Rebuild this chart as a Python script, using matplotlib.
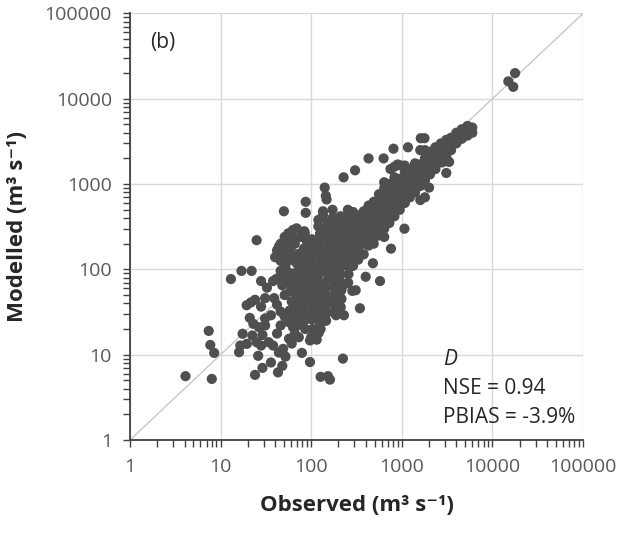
import matplotlib.pyplot as plt

plt.rcParams['font.family'] = ['Open Sans', 'DejaVu Sans']

# Observed / modelled discharge pairs (m3 s-1)
outliers_x = [4.1, 7.4, 7.7, 8.5, 8, 13, 17, 22, 25, 50, 87, 87]
outliers_y = [5.6, 19, 13, 10.5, 5.2, 77, 96, 96, 220, 480, 620, 460]

low_x = [16, 16.5, 17.5, 19.5, 19.4, 21.6, 24, 22.4, 26.5, 29, 31, 28, 31, 32.5, 28, 38, 41, 46,
         51, 39, 42, 46, 51, 57, 63, 46, 42, 34, 38, 49, 57, 66, 73, 80, 69, 59, 61, 51, 31, 36,
         25, 28, 24, 29, 26, 36, 43, 48, 79, 97, 97, 115, 127, 127, 127, 153, 161, 224,
         21, 23, 44, 52, 61, 73]
low_y = [10.7, 12.8, 17.6, 13.4, 38, 41, 44, 16.8, 21, 17, 26.6, 36.6, 46, 61, 73, 73, 77, 96,
         80, 46, 38.5, 32, 28, 24, 21, 22, 17.7, 14, 12.8, 11.7, 15.4, 17.7, 26.6, 35, 46, 55, 42, 50, 22, 29,
         14, 12.8, 5.8, 7, 9.7, 8.1, 6.2, 7.4, 10.5, 8.2, 14.7, 15, 20, 24, 5.5, 5.6, 5.1, 9,
         27, 23, 10.6, 9.5, 13.5, 16]

mid_x = [42, 46, 51, 56, 63, 69, 54, 66, 77, 85, 40, 46, 56, 73, 81, 85, 73, 44, 60, 90, 92, 65,
         44, 48, 55, 60, 66, 70, 76, 62, 58, 66, 72, 78, 85, 88, 64, 75,
         50, 58, 48, 62, 52]
mid_y = [167, 200, 240, 265, 290, 303, 159, 200, 240, 265, 139, 126, 126, 152, 139, 116, 116, 185, 180, 210, 175, 230,
         80, 65, 70, 90, 62, 80, 95, 75, 33, 38, 52, 44, 30, 40, 28, 24,
         185, 215, 145, 140, 105]

core_x = [70, 72, 69, 73, 71, 70, 73, 71, 69, 72,
          86, 84, 87, 83, 86, 85, 88, 84, 86, 85, 83, 86, 84,
          100, 104, 101, 103, 99, 104, 102, 100, 103, 101, 104, 99, 102,
          121, 125, 122, 124, 120, 125, 123, 121, 126, 122, 124, 121, 125, 120,
          146, 150, 147, 149, 145, 151, 148, 146, 150, 147, 149, 146, 152,
          176, 180, 177, 179, 175, 181, 178, 176, 180, 177, 179, 174,
          212, 216, 213, 215, 211, 217, 214, 212, 216, 213, 215, 211,
          256, 258, 254, 260, 257, 255, 259, 256, 258, 254,
          127, 155, 172, 120, 135, 201, 216, 233, 285, 188, 230,
          78, 93, 112, 135, 162, 195, 78, 93, 112, 135, 162, 195,
          78, 93, 112, 135, 162, 195, 93, 112, 135, 162]
core_y = [22, 27, 33, 40, 50, 62, 76, 95, 118, 145,
          20, 25, 31, 38, 47, 58, 72, 90, 112, 140, 175, 230, 280,
          16, 20, 26, 32, 40, 50, 62, 78, 96, 120, 150, 185, 225,
          18, 23, 29, 36, 45, 56, 70, 87, 108, 135, 168, 210, 260, 320,
          25, 31, 39, 48, 60, 75, 93, 115, 145, 180, 225, 290, 350,
          32, 40, 50, 62, 78, 97, 120, 150, 190, 240, 300, 380,
          36, 45, 56, 70, 88, 110, 140, 175, 220, 270, 340, 420,
          70, 88, 110, 135, 170, 210, 260, 330, 410, 500,
          265, 350, 400, 380, 430, 51, 58, 67, 56, 29, 29,
          35, 43, 52, 66, 82, 100, 66, 80, 100, 125, 155, 190,
          125, 55, 36, 44, 110, 68, 160, 195, 240, 260]

band_x = [250] * 6 + [290] * 7 + [330] * 6 + [380] * 6 + [430] * 6 + [490] * 6 + [560] * 6 \
    + [640] * 7 + [730] * 6 + [830] * 7 + [950] * 5 + [1080] * 6 + [1230] * 5 + [1400] * 5 \
    + [1600] * 6 + [1800] * 6 + [2050] * 4 + [2350] * 4 + [2700] * 4 + [3100] * 4 + [3500] * 3 \
    + [4000] * 3 + [4600] * 3 + [5300] * 3 + [6000] * 2
band_y = [130, 170, 210, 260, 320, 400,
          110, 150, 190, 240, 300, 380, 470,
          130, 170, 220, 280, 350, 430,
          150, 200, 250, 310, 390, 480,
          190, 240, 300, 370, 460, 560,
          200, 260, 330, 410, 500, 620,
          250, 320, 400, 500, 620, 760,
          300, 380, 480, 600, 740, 900, 1050,
          350, 440, 560, 700, 860, 1000,
          420, 520, 650, 800, 980, 1200, 1600,
          500, 620, 780, 950, 1150,
          600, 740, 900, 1100, 1350, 1650,
          700, 860, 1050, 1250, 1500,
          800, 1000, 1200, 1450, 1750,
          650, 950, 1150, 1400, 1700, 2500,
          700, 1100, 1350, 1650, 2000, 2500,
          1300, 1600, 2000, 2400,
          1500, 1900, 2300, 2700,
          1800, 2200, 2600, 3000,
          2100, 2500, 2900, 3300,
          2500, 3000, 3500,
          3000, 3500, 4000,
          3400, 3900, 4400,
          3700, 4200, 4800,
          4000, 4600]

extra_x = [141, 145, 148, 135, 172, 228, 305, 430, 630, 810, 1170, 1620, 1780,
           1070, 2000, 3330, 3100, 2800, 575, 400, 480, 345, 310, 760, 640, 500,
           750, 900, 980, 15000, 17000, 17800]
extra_y = [910, 730, 660, 480, 500, 1200, 1450, 2000, 2000, 2600, 2700, 3450, 3450,
           300, 910, 1820, 1350, 1800, 73, 82, 118, 35, 57, 175, 240, 240,
           1500, 1700, 1650, 16000, 13800, 20000]

observed = outliers_x + low_x + mid_x + core_x + band_x + extra_x
modelled = outliers_y + low_y + mid_y + core_y + band_y + extra_y

fig = plt.figure(figsize=(6.27, 5.33), dpi=100)
ax = fig.add_axes([0.2073, 0.1745, 0.7225, 0.8002])

ax.plot([1, 100000], [1, 100000], color='#c8c8c8', lw=1, zorder=1)
ax.scatter(observed, modelled, s=54, color='#4f4f4f', edgecolors='none', zorder=3)

ax.set_xscale('log')
ax.set_yscale('log')
ax.set_xlim(1, 100000)
ax.set_ylim(1, 100000)
ticks = [1, 10, 100, 1000, 10000, 100000]
ax.set_xticks(ticks)
ax.set_xticklabels([str(t) for t in ticks])
ax.set_yticks(ticks)
ax.set_yticklabels([str(t) for t in ticks])
ax.grid(True, which='major', color='#d9d9d9', lw=1)
ax.set_axisbelow(True)

for side in ['top', 'right']:
    ax.spines[side].set_visible(False)
for side in ['left', 'bottom']:
    ax.spines[side].set_color('#404040')
    ax.spines[side].set_linewidth(1.3)

ax.tick_params(which='both', direction='out', color='#404040', width=1, length=5,
               labelsize=14, labelcolor='#595959')
ax.tick_params(axis='x', which='major', pad=8)
ax.tick_params(axis='y', which='major', pad=8)

ax.set_xlabel('Observed (m³ s⁻¹)', fontsize=16, fontweight='bold', color='#262626', labelpad=14)
ax.set_ylabel('Modelled (m³ s⁻¹)', fontsize=16, fontweight='bold', color='#262626', labelpad=12)

ax.text(0.044, 0.931, '(b)', transform=ax.transAxes, fontsize=15, va='center', color='#262626')
ax.text(0.691, 0.188, 'D', transform=ax.transAxes, fontsize=15, style='italic', va='center', color='#262626')
ax.text(0.691, 0.120, 'NSE = 0.94', transform=ax.transAxes, fontsize=15, va='center', color='#262626')
ax.text(0.691, 0.052, 'PBIAS = -3.9%', transform=ax.transAxes, fontsize=15, va='center', color='#262626')

plt.savefig('out.png', dpi=100)
plt.close()
